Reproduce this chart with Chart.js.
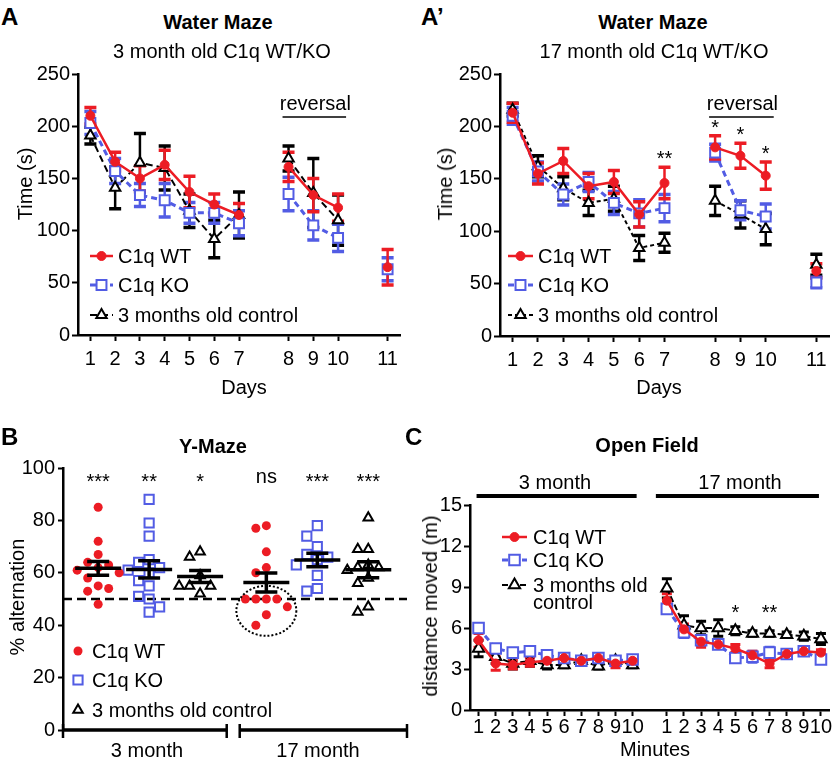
<!DOCTYPE html>
<html>
<head>
<meta charset="utf-8">
<script src="https://cdn.jsdelivr.net/npm/chart.js@4.4.1/dist/chart.umd.min.js"></script>
<style>
body { margin: 0; background: #fff; }
#fig { position: relative; width: 839px; height: 763px; overflow: hidden; font-family: "Liberation Sans", Arial, sans-serif; color: #000; }
#fig canvas { position: absolute; }
.t { position: absolute; font-size: 20px; line-height: 20px; white-space: nowrap; transform: translate(-50%, -50%); }
.b { font-weight: bold; }
.v { transform: translate(-50%, -50%) rotate(-90deg); }
.p { position: absolute; font-size: 24px; line-height: 24px; font-weight: bold; transform: translate(0, -50%); }
</style>
</head>
<body>
<div id="fig">
  <canvas id="cA" width="420" height="340" style="left:0;top:60px"></canvas>
  <canvas id="cA2" width="419" height="340" style="left:420px;top:60px"></canvas>
  <canvas id="cB" width="420" height="343" style="left:0;top:420px"></canvas>
  <canvas id="cC" width="419" height="343" style="left:420px;top:420px"></canvas>

  <div class="p" style="left:1px;top:16.5px">A</div>
  <div class="t b" style="left:218px;top:22px">Water Maze</div>
  <div class="t" style="left:222px;top:50.5px">3 month old C1q WT/KO</div>
  <div class="t v" style="left:25px;top:184px">Time (s)</div>
  <div class="t" style="left:244px;top:387px">Days</div>

  <div class="p" style="left:421px;top:16.5px">A’</div>
  <div class="t b" style="left:653px;top:22px">Water Maze</div>
  <div class="t" style="left:654px;top:50.5px">17 month old C1q WT/KO</div>
  <div class="t v" style="left:445px;top:184px">Time (s)</div>
  <div class="t" style="left:659px;top:387px">Days</div>

  <div class="p" style="left:1px;top:437px">B</div>
  <div class="t b" style="left:213px;top:446px">Y-Maze</div>
  <div class="t v" style="left:17px;top:597px">% alternation</div>
  <div class="t" style="left:147px;top:749.5px">3 month</div>
  <div class="t" style="left:318px;top:749.5px">17 month</div>

  <div class="p" style="left:405px;top:437px">C</div>
  <div class="t b" style="left:647px;top:445px">Open Field</div>
  <div class="t v" style="left:430px;top:606px">distamce moved (m)</div>
  <div class="t" style="left:555px;top:481.5px">3 month</div>
  <div class="t" style="left:740px;top:481.5px">17 month</div>
  <div class="t" style="left:655px;top:748.5px">Minutes</div>
</div>

<script>
const FONT = '"Liberation Sans", Arial, sans-serif';
const RED = 'rgb(236,28,36)';
const BLUE = 'rgb(82,92,228)';
const BLACK = '#000';

// Water maze, days (blank = gap on the axis)
const days = ['1', '2', '3', '4', '5', '6', '7', '', '8', '9', '10', '', '11'];
const seriesNames = ['C1q WT', 'C1q KO', '3 months old control'];

// A: 3 month old
const wmWt3 = [210, 166, 150, 163, 137, 125, 115, null, 161, 134, 122, null, 65];
const wmWt3Err = [8, 9, 12, 14, 15, 10, 11, null, 14, 16, 13, null, 17];
const wmKo3 = [203, 157, 134, 129, 117, 117, 107, null, 135, 105, 93, null, 63];
const wmKo3Err = [11, 12, 11, 16, 10, 10, 12, null, 16, 14, 13, null, 11];
const wmCtrl3 = [191, 141, 165, 160, 119, 92, 115, null, 169, 136, 110, null, null];
const wmCtrl3Err = [8, 20, 28, 21, 16, 18, 22, null, 12, 33, 24, null, null];

// A': 17 month old
const wmWt17 = [213, 155, 167, 143, 147, 116, 146, null, 180, 172, 153, null, 62];
const wmWt17Err = [9, 10, 12, 12, 11, 12, 15, null, 11, 12, 13, null, 7];
const wmKo17 = [210, 157, 135, 147, 127, 117, 122, null, 175, 120, 114, null, 51];
const wmKo17Err = [8, 9, 10, 9, 11, 13, 13, null, 8, 9, 12, null, 5];
const wmCtrl17 = [216, 162, 141, 127, 131, 84, 89, null, 129, 116, 102, null, 68];
const wmCtrl17Err = [6, 10, 11, 12, 12, 12, 9, null, 14, 13, 15, null, 10];
const wmStars17 = ['', '', '', '', '', '', '**', '', '*', '*', '*', '', ''];

// B: Y-maze, % alternation per animal
const ymAges = ['3 month', '17 month'];
const ymWt3 = [85, 72, 67, 64, 63, 62, 61, 60, 58, 55, 54, 53, 48];
const ymKo3 = [88, 79, 74, 65, 64, 62, 61, 60, 57, 55, 51, 50, 47, 45];
const ymCtrl3 = [68, 66, 59, 55, 55, 55, 52];
const ymWt17 = [78, 77, 68, 62, 60, 50, 50, 50, 50, 47, 44, 40];
const ymKo17 = [78, 74, 70, 67, 66, 65, 63, 59, 54, 53];
const ymCtrl17 = [81, 69, 69, 63, 62, 62, 61, 58, 56, 47, 45];
const ymStars = ['***', '**', '*', 'ns', '***', '***'];
const ymChance = 50;

// C: open field, distance per minute
const minutes = ['1', '2', '3', '4', '5', '6', '7', '8', '9', '10'];
const ofWt3 = [5.1, 3.4, 3.3, 3.5, 3.6, 3.8, 3.6, 3.8, 3.4, 3.6];
const ofWt3Err = [0.5, 0.5, 0.3, 0.3, 0.3, 0.2, 0.2, 0.2, 0.3, 0.2];
const ofKo3 = [6.0, 4.5, 4.2, 4.3, 4.0, 3.8, 3.6, 3.8, 3.6, 3.7];
const ofKo3Err = [0.3, 0.3, 0.2, 0.2, 0.2, 0.2, 0.2, 0.2, 0.2, 0.2];
const ofCtrl3 = [4.5, 3.9, 3.4, 3.6, 3.3, 3.3, 3.6, 3.2, 3.6, 3.3];
const ofCtrl3Err = [0.6, 0.5, 0.4, 0.4, 0.3, 0.2, 0.2, 0.2, 0.3, 0.2];
const ofWt17 = [8.0, 5.9, 5.0, 4.8, 4.5, 4.0, 3.4, 4.1, 4.3, 4.2];
const ofWt17Err = [0.5, 0.4, 0.4, 0.3, 0.3, 0.3, 0.3, 0.2, 0.2, 0.2];
const ofKo17 = [7.4, 5.7, 5.1, 4.8, 3.8, 3.9, 4.2, 4.1, 4.3, 3.7];
const ofKo17Err = [0.3, 0.4, 0.3, 0.3, 0.3, 0.4, 0.4, 0.2, 0.2, 0.2];
const ofCtrl17 = [8.9, 6.2, 6.0, 6.0, 5.8, 5.6, 5.6, 5.5, 5.4, 5.2];
const ofCtrl17Err = [0.7, 0.7, 0.5, 0.6, 0.3, 0.2, 0.2, 0.2, 0.3, 0.4];
const ofStars17 = ['', '', '', '', '*', '', '**', '', '', ''];

Chart.defaults.font.family = FONT;
Chart.defaults.font.size = 20;
Chart.defaults.color = '#000';
Chart.defaults.animation = false;
Chart.defaults.events = [];
Chart.defaults.plugins.legend.display = false;
Chart.defaults.plugins.tooltip.enabled = false;

const axisBorder = { display: true, color: '#000', width: 2.5 };
function tickGrid(len, labels) {
  return {
    display: true, drawOnChartArea: false, drawTicks: true, tickLength: len, tickWidth: 2, offset: false,
    tickColor: labels ? (c => labels[c.index] === '' ? 'rgba(0,0,0,0)' : '#000') : '#000'
  };
}

function drawMarker(ctx, style, x, y, r, fill, stroke, lw) {
  ctx.save();
  ctx.setLineDash([]);
  ctx.beginPath();
  if (style === 'circle') {
    ctx.arc(x, y, r, 0, Math.PI * 2);
  } else if (style === 'rect') {
    const s = r * Math.SQRT1_2;
    ctx.rect(x - s, y - s, 2 * s, 2 * s);
  } else {
    for (let k = 0; k < 3; k++) {
      const a = k * 2 * Math.PI / 3;
      ctx.lineTo(x + Math.sin(a) * r, y - Math.cos(a) * r);
    }
    ctx.closePath();
  }
  ctx.fillStyle = fill;
  ctx.fill();
  if (lw) { ctx.lineWidth = lw; ctx.strokeStyle = stroke; ctx.stroke(); }
  ctx.restore();
}

function drawLegend(chart, o) {
  const ctx = chart.ctx;
  chart.data.datasets.forEach((ds, i) => {
    const y = o.ys[i];
    if (o.line) {
      ctx.save();
      ctx.strokeStyle = ds.borderColor;
      ctx.lineWidth = ds.borderWidth;
      ctx.setLineDash(ds.borderDash || []);
      ctx.beginPath(); ctx.moveTo(o.x0, y); ctx.lineTo(o.x1, y); ctx.stroke();
      ctx.restore();
    }
    drawMarker(ctx, ds.pointStyle, (o.x0 + o.x1) / 2, y, ds.pointRadius, ds.pointBackgroundColor, ds.pointBorderColor, ds.pointBorderWidth);
    ctx.save();
    ctx.fillStyle = '#000';
    ctx.font = '20px ' + FONT;
    ctx.textAlign = 'left';
    ctx.textBaseline = 'alphabetic';
    const parts = (o.wrap && o.wrap[i]) ? o.wrap[i] : [seriesNames[i]];
    parts.forEach((s, k) => ctx.fillText(s, o.tx, y + 7 + k * (o.lead || 17)));
    ctx.restore();
  });
}

// vertical SEM bars for the line panels
const errorBars = {
  id: 'errorBars',
  beforeDatasetsDraw(chart, args, opts) {
    const ctx = chart.ctx, ys = chart.scales.y, cap = opts.cap;
    chart.data.datasets.slice().reverse().forEach(ds => {
      const di = chart.data.datasets.indexOf(ds);
      const meta = chart.getDatasetMeta(di);
      ctx.save();
      ctx.strokeStyle = ds.borderColor;
      meta.data.forEach((pt, i) => {
        const v = ds.data[i], e = ds.errors[i];
        if (v == null || e == null) return;
        const t = ys.getPixelForValue(v + e), b = ys.getPixelForValue(v - e);
        ctx.lineWidth = opts.width;
        ctx.beginPath();
        ctx.moveTo(pt.x, t); ctx.lineTo(pt.x, b);
        ctx.stroke();
        ctx.lineWidth = opts.capWidth;
        ctx.beginPath();
        ctx.moveTo(pt.x - cap, t); ctx.lineTo(pt.x + cap, t);
        ctx.moveTo(pt.x - cap, b); ctx.lineTo(pt.x + cap, b);
        ctx.stroke();
      });
      ctx.restore();
    });
  }
};

function starsAbove(chart, stars) {
  const ctx = chart.ctx, xs = chart.scales.x, ys = chart.scales.y;
  stars.forEach((s, i) => {
    if (!s) return;
    let top = Infinity;
    chart.data.datasets.forEach(ds => {
      const v = ds.data[i];
      if (v != null) top = Math.min(top, ys.getPixelForValue(v + (ds.errors[i] || 0)));
    });
    ctx.fillText(s, xs.getPixelForValue(i), top - 2);
  });
}

const wmNotes = {
  id: 'wmNotes',
  afterDatasetsDraw(chart, args, o) {
    const ctx = chart.ctx, xs = chart.scales.x, a = chart.chartArea;
    const i8 = days.indexOf('8'), i9 = days.indexOf('9'), i10 = days.indexOf('10');
    ctx.save();
    ctx.fillStyle = '#000';
    ctx.strokeStyle = '#000';
    ctx.font = '20px ' + FONT;
    ctx.textAlign = 'center';
    ctx.fillText('reversal', xs.getPixelForValue(i9) + 2, a.top + 36);
    ctx.lineWidth = 1.5;
    ctx.beginPath();
    ctx.moveTo(xs.getPixelForValue(i8) - 6, a.top + 43);
    ctx.lineTo(xs.getPixelForValue(i10) + 8, a.top + 43);
    ctx.stroke();
    starsAbove(chart, o.stars);
    ctx.restore();
    drawLegend(chart, o.legend);
  }
};

function styled(label, data, errors, kind, dash) {
  const base = { label: label, data: data, errors: errors, tension: 0, spanGaps: false };
  if (kind === 'wt') return Object.assign(base, { borderColor: RED, backgroundColor: RED, borderWidth: 2.5, borderDash: [], pointStyle: 'circle', pointRadius: 4.5, pointBackgroundColor: RED, pointBorderColor: RED, pointBorderWidth: 1 });
  if (kind === 'ko') return Object.assign(base, { borderColor: BLUE, backgroundColor: BLUE, borderWidth: 3, borderDash: [6, 4], pointStyle: 'rect', pointRadius: 7, pointBackgroundColor: '#fff', pointBorderColor: BLUE, pointBorderWidth: 2 });
  return Object.assign(base, { borderColor: BLACK, backgroundColor: BLACK, borderWidth: 2, borderDash: dash, pointStyle: 'triangle', pointRadius: 6, pointBackgroundColor: '#fff', pointBorderColor: BLACK, pointBorderWidth: 2 });
}

function waterMaze(id, wt, wtE, ko, koE, ctrl, ctrlE, ctrlDash, o) {
  return new Chart(document.getElementById(id), {
    type: 'line',
    data: {
      labels: days,
      datasets: [
        styled(seriesNames[0], wt, wtE, 'wt'),
        styled(seriesNames[1], ko, koE, 'ko'),
        styled(seriesNames[2], ctrl, ctrlE, 'ctrl', ctrlDash)
      ]
    },
    options: {
      responsive: false,
      devicePixelRatio: 1,
      layout: { padding: { top: 12, right: o.right, left: 0, bottom: 0 } },
      scales: {
        x: {
          type: 'category', offset: true,
          grid: tickGrid(6, days), border: axisBorder,
          ticks: { autoSkip: false, maxRotation: 0, minRotation: 0, padding: 6 },
          afterFit: s => { s.height = o.xh; }
        },
        y: {
          min: 0, max: 250,
          grid: tickGrid(6), border: axisBorder,
          ticks: { stepSize: 50, padding: 2 },
          afterFit: s => { s.width = o.left; }
        }
      },
      plugins: {
        errorBars: { cap: 6, width: 2.5, capWidth: 3.5 },
        wmNotes: { stars: o.stars, legend: o.legend }
      }
    },
    plugins: [errorBars, wmNotes]
  });
}

waterMaze('cA', wmWt3, wmWt3Err, wmKo3, wmKo3Err, wmCtrl3, wmCtrl3Err, [7, 4], {
  left: 78, right: 20, xh: 65, stars: [],
  legend: { line: true, x0: 90, x1: 113, tx: 118, ys: [196, 225, 255] }
});
waterMaze('cA2', wmWt17, wmWt17Err, wmKo17, wmKo17Err, wmCtrl17, wmCtrl17Err, [4, 3], {
  left: 80, right: 10, xh: 64, stars: wmStars17,
  legend: { line: true, x0: 88, x1: 113, tx: 118, ys: [196, 225, 255] }
});

// ---- B: Y-maze scatter ----
const ymSeries = [[ymWt3, ymWt17], [ymKo3, ymKo17], [ymCtrl3, ymCtrl17]];
const groupX = (age, g) => 1 + g + age * 3.3;   // gap between age blocks
const PX_X = 51, PX_Y = 2.62;                    // approx pixels per unit, for the swarm

function swarm(vals) {
  const placed = [];
  return vals.map(v => {
    for (const k of [0, -1, 1, -2, 2, -3, 3]) {
      const dx = k * 10.5;
      if (placed.every(p => Math.hypot(p.dx - dx, (p.v - v) * PX_Y) >= 10.5)) {
        placed.push({ dx: dx, v: v });
        return dx / PX_X;
      }
    }
    return 0;
  });
}

const ymGroupList = [];
ymAges.forEach((age, ai) => ymSeries.forEach((s, si) => ymGroupList.push({ vals: s[ai], x: groupX(ai, si) })));
ymGroupList.sort((p, q) => p.x - q.x);

const ymStyles = [
  { pointStyle: 'circle', pointRadius: 4.5, pointBackgroundColor: RED, pointBorderColor: RED, pointBorderWidth: 0, borderColor: RED },
  { pointStyle: 'rect', pointRadius: 6.5, pointBackgroundColor: 'rgba(0,0,0,0)', pointBorderColor: BLUE, pointBorderWidth: 2, borderColor: BLUE },
  { pointStyle: 'triangle', pointRadius: 5.5, pointBackgroundColor: 'rgba(0,0,0,0)', pointBorderColor: BLACK, pointBorderWidth: 2, borderColor: BLACK }
];

const ymNotes = {
  id: 'ymNotes',
  beforeDatasetsDraw(chart) {
    const ctx = chart.ctx, a = chart.chartArea, ys = chart.scales.y;
    const y50 = ys.getPixelForValue(ymChance);
    ctx.save();
    ctx.strokeStyle = '#000'; ctx.lineWidth = 2.5; ctx.setLineDash([9, 5]);
    ctx.beginPath(); ctx.moveTo(a.left, y50); ctx.lineTo(a.right, y50); ctx.stroke();
    ctx.restore();
  },
  afterDatasetsDraw(chart, args, o) {
    const ctx = chart.ctx, a = chart.chartArea, xs = chart.scales.x, ys = chart.scales.y;
    ctx.save();
    ctx.strokeStyle = '#000'; ctx.fillStyle = '#000';
    ctx.font = '20px ' + FONT; ctx.textAlign = 'center';
    ymGroupList.forEach((g, gi) => {
      const n = g.vals.length;
      const m = g.vals.reduce((s, v) => s + v, 0) / n;
      const sd = Math.sqrt(g.vals.reduce((s, v) => s + (v - m) * (v - m), 0) / (n - 1));
      const sem = sd / Math.sqrt(n);
      const x = xs.getPixelForValue(g.x);
      const ym = ys.getPixelForValue(m), yt = ys.getPixelForValue(m + sem), yb = ys.getPixelForValue(m - sem);
      ctx.lineWidth = 3.5;
      ctx.beginPath();
      ctx.moveTo(x - 23, ym); ctx.lineTo(x + 23, ym);
      ctx.moveTo(x - 11, yt); ctx.lineTo(x + 11, yt);
      ctx.moveTo(x - 11, yb); ctx.lineTo(x + 11, yb);
      ctx.moveTo(x, yt); ctx.lineTo(x, yb);
      ctx.stroke();
      const s = ymStars[gi];
      if (s === 'ns') ctx.fillText(s, x, ys.getPixelForValue(96.2) + 5);
      else ctx.fillText(s, x, ys.getPixelForValue(96.5) + 11);
    });
    // dotted circle round the 17 month WT animals at chance
    ctx.lineWidth = 2; ctx.setLineDash([2, 2]);
    ctx.beginPath();
    ctx.ellipse(xs.getPixelForValue(groupX(1, 0)), ys.getPixelForValue(45.5), 30, 25, 0, 0, Math.PI * 2);
    ctx.stroke();
    ctx.setLineDash([]);
    // broken x axis
    const bx = xs.getPixelForValue((groupX(0, 2) + groupX(1, 0)) / 2), yb = a.bottom;
    ctx.lineWidth = 3.5;
    ctx.beginPath();
    ctx.moveTo(a.left - 1, yb); ctx.lineTo(bx - 6.5, yb);
    ctx.moveTo(bx + 6.5, yb); ctx.lineTo(a.right, yb);
    ctx.stroke();
    ctx.lineWidth = 2.5;
    ctx.beginPath();
    [a.left, bx - 6.5, bx + 6.5, a.right].forEach(x => { ctx.moveTo(x, yb - 6); ctx.lineTo(x, yb + 8); });
    ctx.stroke();
    ctx.restore();
    drawLegend(chart, o.legend);
  }
};

new Chart(document.getElementById('cB'), {
  type: 'scatter',
  data: {
    datasets: ymSeries.map((s, si) => Object.assign({
      label: seriesNames[si],
      showLine: false,
      data: [].concat(...s.map((vals, ai) => {
        const offs = swarm(vals);
        return vals.map((v, i) => ({ x: groupX(ai, si) + offs[i], y: v }));
      }))
    }, ymStyles[si]))
  },
  options: {
    responsive: false,
    devicePixelRatio: 1,
    layout: { padding: { top: 48, right: 13, left: 0, bottom: 33 } },
    scales: {
      x: { type: 'linear', min: 0.31, max: 7.06, display: false },
      y: {
        min: 0, max: 100,
        grid: tickGrid(5), border: axisBorder,
        ticks: { stepSize: 20, padding: 3 },
        afterFit: s => { s.width = 63; }
      }
    },
    plugins: {
      ymNotes: { legend: { line: false, x0: 78, x1: 78, tx: 92, ys: [231, 260, 290] } }
    }
  },
  plugins: [ymNotes]
});

// ---- C: open field ----
const ofLabels = minutes.concat([''], minutes);
const joinAges = (a3, a17) => a3.concat([null], a17);

const ofNotes = {
  id: 'ofNotes',
  afterDatasetsDraw(chart, args, o) {
    const ctx = chart.ctx, xs = chart.scales.x, ys = chart.scales.y;
    const gap = ofLabels.indexOf('');
    ctx.save();
    ctx.fillStyle = '#000'; ctx.strokeStyle = '#000';
    ctx.lineWidth = 4;
    ctx.beginPath();
    ctx.moveTo(xs.getPixelForValue(0) - 2, 76); ctx.lineTo(xs.getPixelForValue(gap - 1) + 4, 76);
    ctx.moveTo(xs.getPixelForValue(gap + 1) - 11, 76); ctx.lineTo(xs.getPixelForValue(ofLabels.length - 1) - 2, 76);
    ctx.stroke();
    ctx.font = '20px ' + FONT; ctx.textAlign = 'center';
    o.stars.forEach((s, i) => {
      if (s) ctx.fillText(s, xs.getPixelForValue(gap + 1 + i), ys.getPixelForValue(7.5) + 11.5);
    });
    ctx.restore();
    drawLegend(chart, o.legend);
  }
};

const ofKoStyle = styled(seriesNames[1], joinAges(ofKo3, ofKo17), joinAges(ofKo3Err, ofKo17Err), 'ko');
ofKoStyle.pointRadius = 7.5;
const ofCtrlStyle = styled(seriesNames[2], joinAges(ofCtrl3, ofCtrl17), joinAges(ofCtrl3Err, ofCtrl17Err), 'ctrl', [6, 3]);
ofCtrlStyle.pointRadius = 6.5;

new Chart(document.getElementById('cC'), {
  type: 'line',
  data: {
    labels: ofLabels,
    datasets: [
      styled(seriesNames[0], joinAges(ofWt3, ofWt17), joinAges(ofWt3Err, ofWt17Err), 'wt'),
      ofKoStyle,
      ofCtrlStyle
    ]
  },
  options: {
    responsive: false,
    devicePixelRatio: 1,
    layout: { padding: { top: 85, right: 6, left: 0, bottom: 0 } },
    scales: {
      x: {
        type: 'category', offset: true,
        grid: tickGrid(6, ofLabels), border: axisBorder,
        ticks: { autoSkip: false, maxRotation: 0, minRotation: 0, padding: -1 },
        afterFit: s => { s.height = 53; }
      },
      y: {
        min: 0, max: 15,
        grid: tickGrid(6), border: axisBorder,
        ticks: { stepSize: 3, padding: 2 },
        afterFit: s => { s.width = 50; }
      }
    },
    plugins: {
      errorBars: { cap: 5, width: 2, capWidth: 3 },
      ofNotes: {
        stars: ofStars17,
        legend: { line: true, x0: 82, x1: 107, tx: 113, ys: [117, 140, 165], lead: 17,
                  wrap: [null, null, ['3 months old', 'control']] }
      }
    }
  },
  plugins: [errorBars, ofNotes]
});
</script>
</body>
</html>
